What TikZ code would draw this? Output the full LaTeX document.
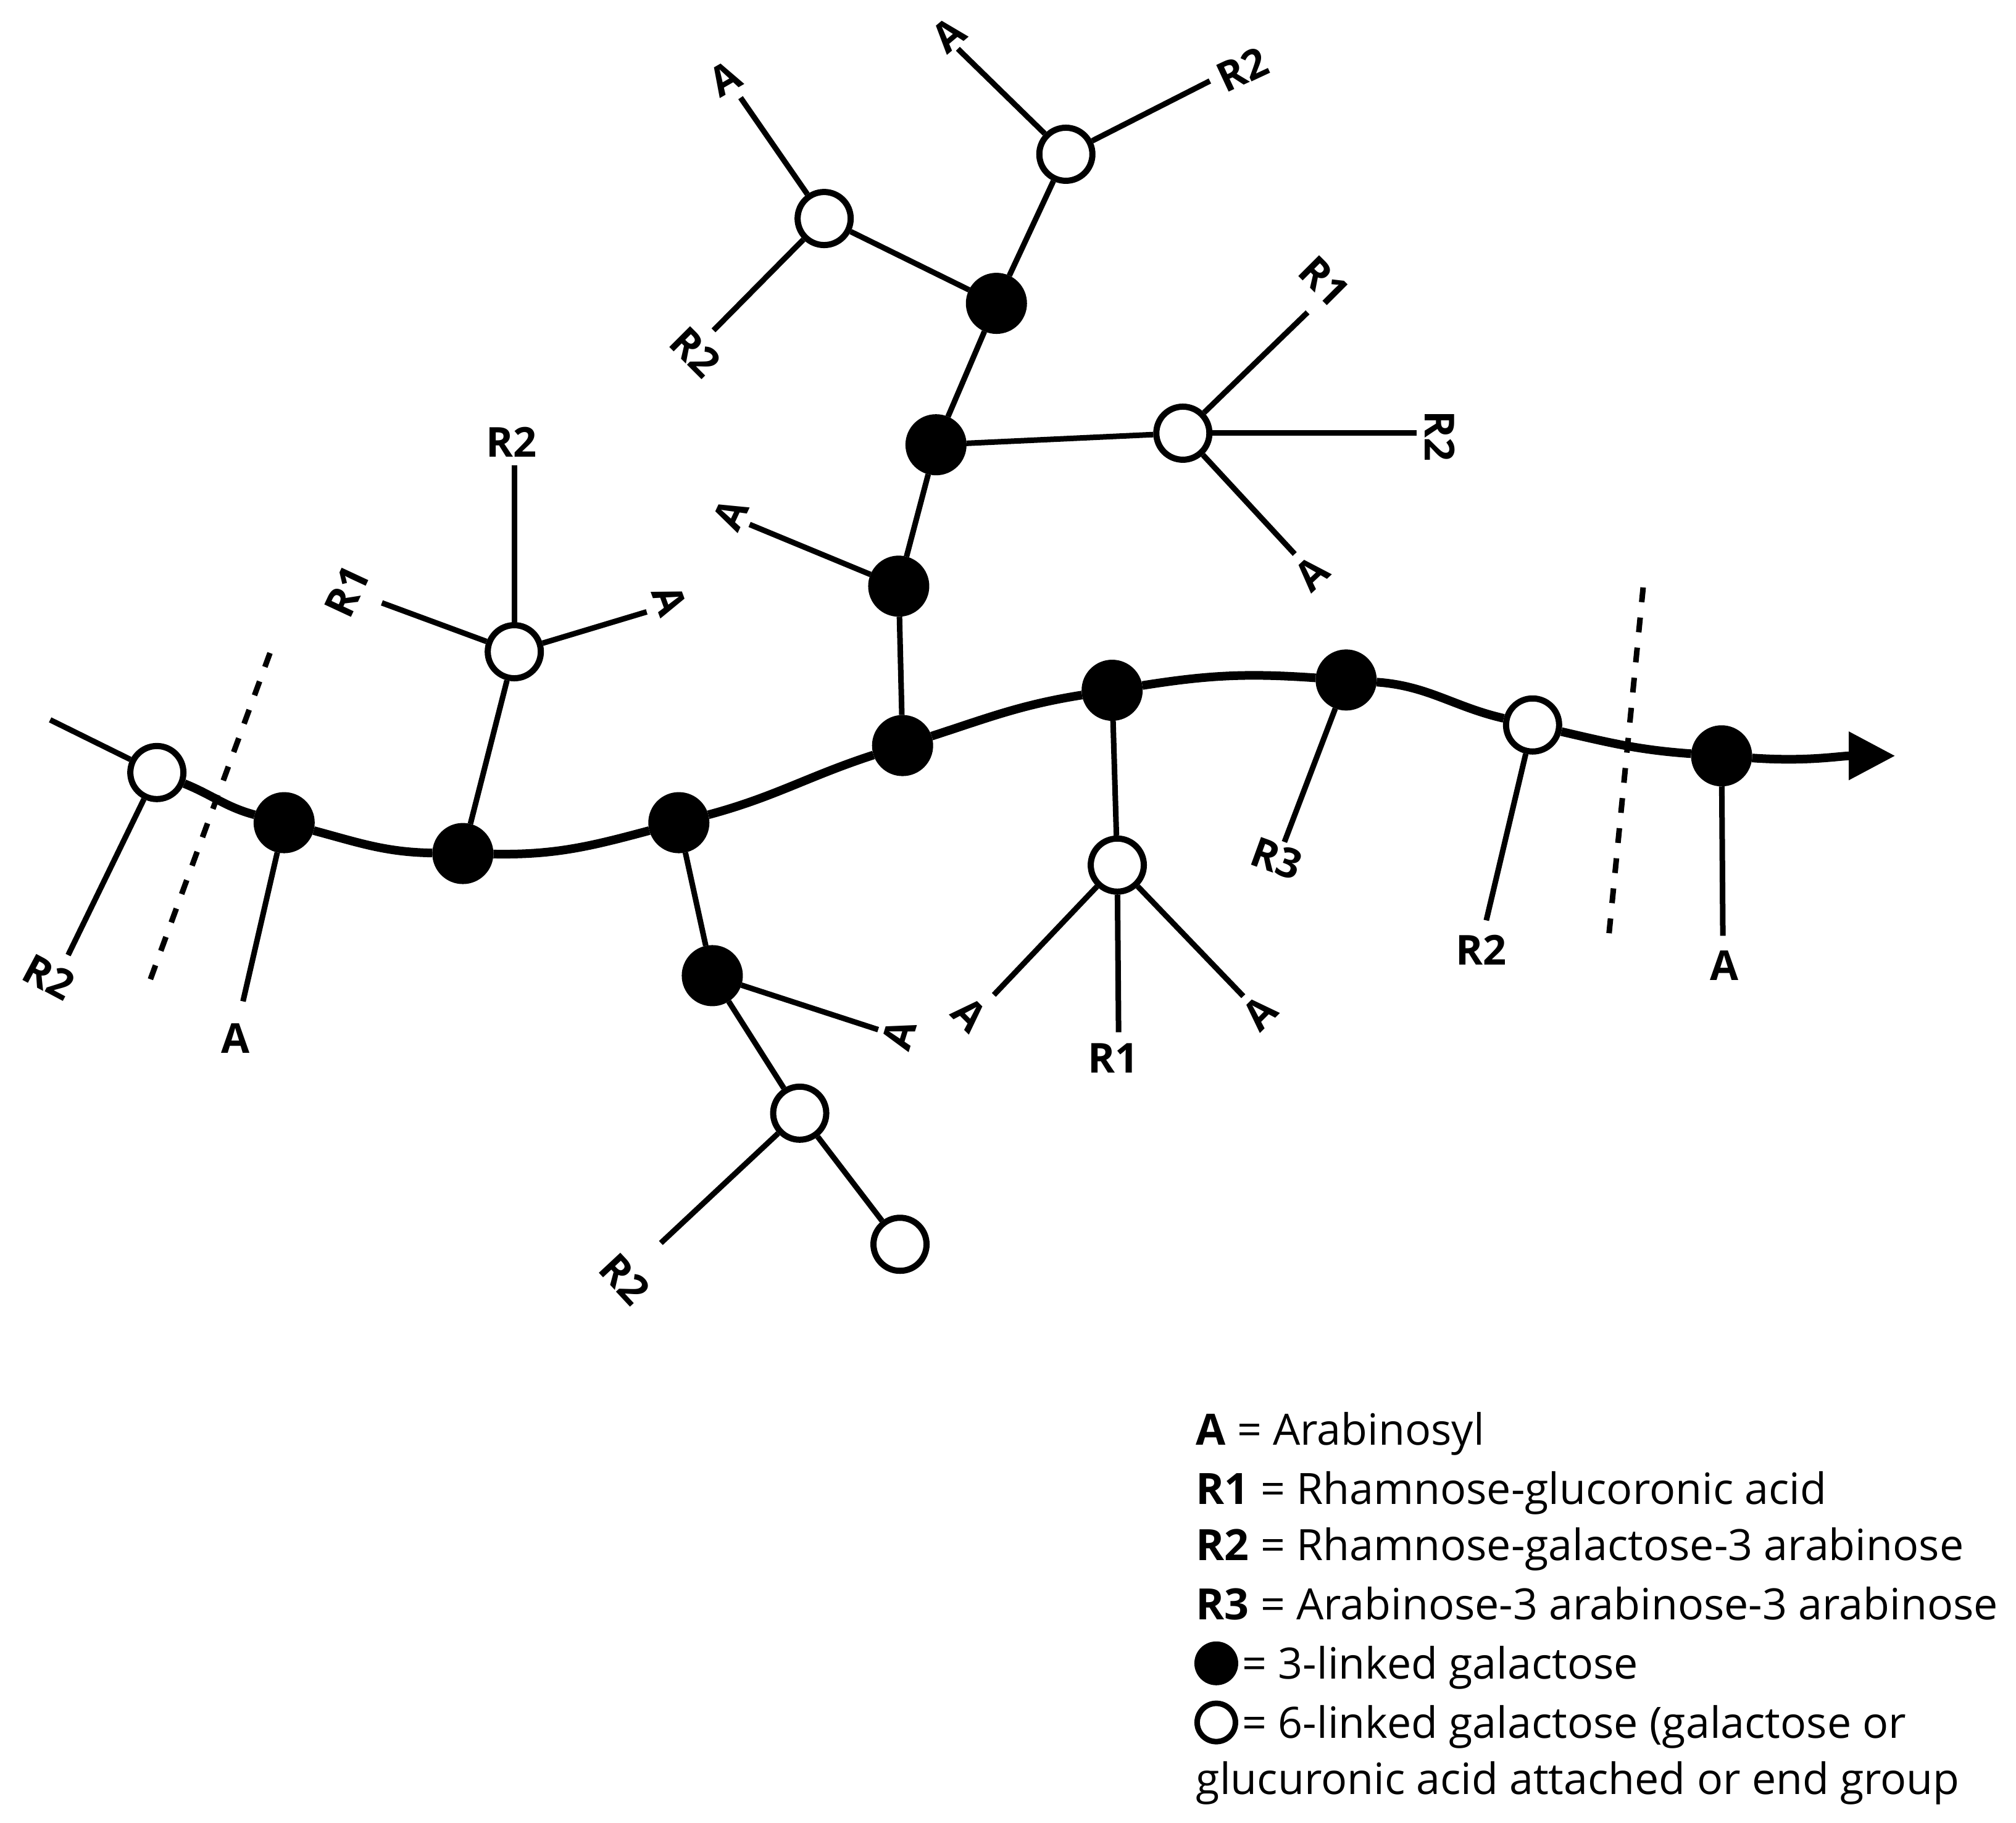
\documentclass[tikz,border=0pt]{standalone}
\usepackage{fontspec}
\setmainfont{Open Sans}
\usetikzlibrary{arrows.meta}
\tikzset{
  gal3/.style={circle, draw, fill=black, line width=1mm, minimum size=8.9mm, inner sep=0pt},
  gal6/.style={circle, draw, fill=white, line width=1mm, minimum size=8.6mm, inner sep=0pt},
  bond/.style={line width=0.9mm},
  chain/.style={line width=1.4mm},
  cut/.style={line width=0.9mm, dash pattern=on 2.4mm off 2.5mm},
  lbl/.style={font=\fontsize{19}{21}\selectfont\bfseries, inner sep=0pt},
  key/.style={anchor=base west, inner sep=0pt, font=\fontsize{19.9}{24}\selectfont}
}

\begin{document}
\begin{tikzpicture}[x=0.2083mm, y=-0.2083mm]
\useasboundingbox (0,0) rectangle (1568,1418);

\node[gal6] (O1) at (122,601) {};
\node[gal3] (F1) at (221,640) {};
\node[gal3] (F2) at (360,664) {};
\node[gal3] (F3) at (528,640) {};
\node[gal3] (F4) at (702,580) {};
\node[gal3] (F5) at (865,537) {};
\node[gal3] (F6) at (1047,529) {};
\node[gal6] (O2) at (1192,564) {};
\node[gal3] (F7) at (1339,588) {};
\coordinate (tip) at (1474,588);

\node[gal6] (O3) at (400,507) {};
\node[gal3] (F8) at (554,759) {};
\node[gal6] (O4) at (622,866) {};
\node[gal6] (O5) at (700,968) {};
\node[gal3] (F9) at (699,456) {};
\node[gal3] (F10) at (728,346) {};
\node[gal3] (F11) at (775,236) {};
\node[gal6] (O7) at (641,170) {};
\node[gal6] (O8) at (829,120) {};
\node[gal6] (O6) at (920,337) {};
\node[gal6] (O9) at (869,673) {};

\draw[chain] (O1) to[out=-22,in=165] (F1) to[out=-15,in=179] (F2)
  to[out=-1,in=195] (F3) to[out=15,in=198] (F4) to[out=18,in=189] (F5)
  to[out=9,in=176] (F6) to[out=-4,in=167] (O2) to[out=-13,in=176] (F7);
\draw[chain, -{Triangle[length=7.5mm,width=7.5mm]}] (F7) to[out=-4,in=180] (tip);

\coordinate (d1a) at (210,508);
\coordinate (d1b) at (114,770);
\coordinate (d2a) at (1278,457);
\coordinate (d2b) at (1251,731);
\draw[cut] (d1a) -- (d1b);
\draw[cut] (d2a) -- (d2b);

\coordinate (eO1a) at (39,560);
\coordinate (eO1b) at (53,743);
\coordinate (eF1) at (189,779);
\coordinate (eO3a) at (400,362);
\coordinate (eO3b) at (297,469);
\coordinate (eO3c) at (503,476);
\coordinate (eF9) at (583,408);
\coordinate (eO7a) at (576,76);
\coordinate (eO7b) at (555,257);
\coordinate (eO8a) at (745,38);
\coordinate (eO8b) at (941,63);
\coordinate (eO6a) at (1017,243);
\coordinate (eO6b) at (1102,337);
\coordinate (eO6c) at (1007,431);
\coordinate (eF8) at (683,801);
\coordinate (eO4) at (514,967);
\coordinate (eO9a) at (773,774);
\coordinate (eO9b) at (870,803);
\coordinate (eO9c) at (967,775);
\coordinate (eF6) at (999,655);
\coordinate (eO2) at (1156,716);
\coordinate (eF7) at (1340,728);

\draw[bond] (O1) -- (eO1a);
\draw[bond] (O1) -- (eO1b);
\draw[bond] (F1) -- (eF1);
\draw[bond] (F2) -- (O3);
\draw[bond] (O3) -- (eO3a);
\draw[bond] (O3) -- (eO3b);
\draw[bond] (O3) -- (eO3c);
\draw[bond] (F3) -- (F8);
\draw[bond] (F8) -- (eF8);
\draw[bond] (F8) -- (O4);
\draw[bond] (O4) -- (eO4);
\draw[bond] (O4) -- (O5);
\draw[bond] (F4) -- (F9);
\draw[bond] (F9) -- (eF9);
\draw[bond] (F9) -- (F10);
\draw[bond] (F10) -- (O6);
\draw[bond] (O6) -- (eO6a);
\draw[bond] (O6) -- (eO6b);
\draw[bond] (O6) -- (eO6c);
\draw[bond] (F10) -- (F11);
\draw[bond] (F11) -- (O7);
\draw[bond] (F11) -- (O8);
\draw[bond] (O7) -- (eO7a);
\draw[bond] (O7) -- (eO7b);
\draw[bond] (O8) -- (eO8a);
\draw[bond] (O8) -- (eO8b);
\draw[bond] (F5) -- (O9);
\draw[bond] (O9) -- (eO9a);
\draw[bond] (O9) -- (eO9b);
\draw[bond] (O9) -- (eO9c);
\draw[bond] (F6) -- (eF6);
\draw[bond] (O2) -- (eO2);
\draw[bond] (F7) -- (eF7);

\node[lbl, rotate=-28] (tO1) at (38,760) {R2};
\node[lbl] (tF1) at (183,808) {A};
\node[lbl] (tO3a) at (398,344) {R2};
\node[lbl, rotate=65] (tO3b) at (270,460) {R1};
\node[lbl, rotate=-70] (tO3c) at (521,467) {A};
\node[lbl, rotate=65] (tF9) at (568,400) {A};
\node[lbl, rotate=30] (tO7a) at (564,61) {A};
\node[lbl, rotate=-45] (tO7b) at (541,274) {R2};
\node[lbl, rotate=40] (tO8a) at (738,27) {A};
\node[lbl, rotate=25] (tO8b) at (966,54) {R2};
\node[lbl, rotate=-45] (tO6a) at (1030,219) {R1};
\node[lbl, rotate=-90] (tO6b) at (1120,339) {R2};
\node[lbl, rotate=43] (tO6c) at (1020,446) {A};
\node[lbl, rotate=73] (tF8) at (699,805) {A};
\node[lbl, rotate=-47] (tO4) at (486,995) {R2};
\node[lbl, rotate=-45] (tO9a) at (754,789) {A};
\node[lbl] (tO9b) at (866,823) {R1};
\node[lbl, rotate=45] (tO9c) at (980,788) {A};
\node[lbl, rotate=-20] (tF6) at (993,668) {R3};
\node[lbl] (tO2) at (1152,739) {R2};
\node[lbl] (tF7) at (1341,751) {A};

\node[key] (k1) at (930,1124) {\textbf{A} = Arabinosyl};
\node[key] (k2) at (930,1170) {\textbf{R1} = Rhamnose-glucoronic acid};
\node[key] (k3) at (930,1214) {\textbf{R2} = Rhamnose-galactose-3 arabinose};
\node[key] (k4) at (930,1260) {\textbf{R3} = Arabinose-3 arabinose-3 arabinose};
\node[gal3, minimum size=6.2mm, line width=0.9mm] (s3) at (946,1294) {};
\node[key] (k5) at (966,1306) {= 3-linked galactose};
\node[gal6, minimum size=6.2mm, line width=0.9mm] (s6) at (946,1340) {};
\node[key] (k6) at (966,1352) {= 6-linked galactose (galactose or};
\node[key] (k7) at (930,1396) {glucuronic acid attached or end group};
\end{tikzpicture}
\end{document}
